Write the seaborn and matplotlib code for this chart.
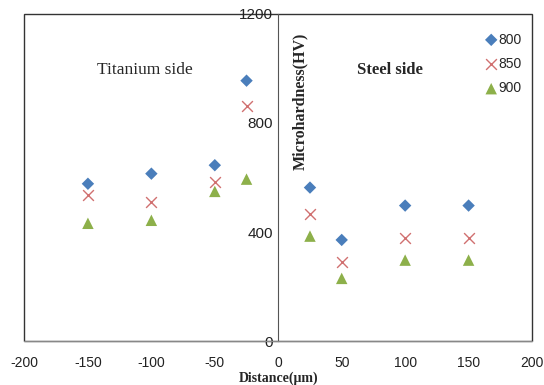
import matplotlib
matplotlib.use("Agg")
import matplotlib.pyplot as plt
import seaborn as sns
import pandas as pd
from matplotlib.patches import Rectangle

distance = [-150, -100, -50, -25, 25, 50, 100, 150]
hv_800 = [577, 614, 645, 955, 563, 371, 497, 497]
hv_850 = [535, 509, 585, 862, 465, 291, 379, 379]
hv_900 = [432, 443, 549, 594, 385, 230, 297, 297]
series = ["800", "850", "900"]
x_ticks = [-200, -150, -100, -50, 0, 50, 100, 150, 200]
y_ticks = [0, 400, 800, 1200]

rows = []
for name, vals in zip(series, [hv_800, hv_850, hv_900]):
    for d, v in zip(distance, vals):
        rows.append({"Distance": d, "HV": v, "Temp": name})
df = pd.DataFrame(rows)

sns.set_theme(style="white")
plt.rcParams["font.family"] = ["Liberation Sans", "DejaVu Sans"]

fig = plt.figure(figsize=(5.44, 3.85), dpi=100)
ax = fig.add_axes([0.045, 0.114, 0.933, 0.85])

palette = {"800": "#4A7EBB", "850": "#C0504D", "900": "#8DB04A"}

for name in series:
    sub = df[df.Temp == name]
    if name == "850":
        sns.scatterplot(data=sub, x="Distance", y="HV", ax=ax, marker="x",
                        color="#D07070", s=60, linewidth=1.0, label=name)
    elif name == "800":
        sns.scatterplot(data=sub, x="Distance", y="HV", ax=ax, marker="D",
                        color=palette[name], s=40, edgecolor="none", label=name)
    else:
        sns.scatterplot(data=sub, x="Distance", y="HV", ax=ax, marker="^",
                        color=palette[name], s=68, edgecolor="none", label=name)

ax.set_xlim(-200, 200)
ax.set_ylim(0, 1200)
ax.set_xticks(x_ticks)
ax.set_yticks(y_ticks)
ax.set_xticklabels([str(t) for t in x_ticks], fontsize=10)
ax.set_yticklabels([str(t) for t in y_ticks], fontsize=10)

for s in ["top", "right"]:
    ax.spines[s].set_visible(False)
ax.spines["left"].set_position(("data", 0))
ax.spines["left"].set_color("#555555")
ax.spines["left"].set_linewidth(0.8)
ax.spines["bottom"].set_color("#888888")
ax.spines["bottom"].set_linewidth(0.8)

ax.tick_params(axis="y", direction="inout", length=6, width=0.8, color="#555555", pad=1, labelcolor="#222222")
ax.tick_params(axis="x", direction="out", length=4, width=0.8, color="#888888", pad=7, labelcolor="#222222")

# Plot area border
ax.add_patch(Rectangle((0, 0), 1, 1, transform=ax.transAxes, fill=False,
                       edgecolor="#333333", linewidth=1.0, clip_on=False, zorder=0))

ax.set_xlabel("")
ax.set_ylabel("")
fig.text(0.512, 0.0, "Distance(\u03bcm)", ha="center", va="bottom", fontsize=10,
         fontweight="bold", family=["Liberation Serif", "DejaVu Serif"])
ax.text(17, 878, "Microhardness(HV)", rotation=90,
        ha="center", va="center", fontsize=11.5, fontweight="bold",
        family=["Liberation Serif", "DejaVu Serif"])
ax.text(-105, 995, "Titanium side", ha="center", va="center", fontsize=12.5,
        family=["Liberation Serif", "DejaVu Serif"])
ax.text(88, 995, "Steel side", ha="center", va="center", fontsize=12,
        fontweight="bold", family=["Liberation Serif", "DejaVu Serif"])

leg = ax.legend(loc="upper right", bbox_to_anchor=(0.99, 0.96), frameon=False,
                fontsize=10, handletextpad=0.0, labelspacing=0.75, handlelength=1.0,
                borderaxespad=0)

fig.savefig("out.png", dpi=100)
